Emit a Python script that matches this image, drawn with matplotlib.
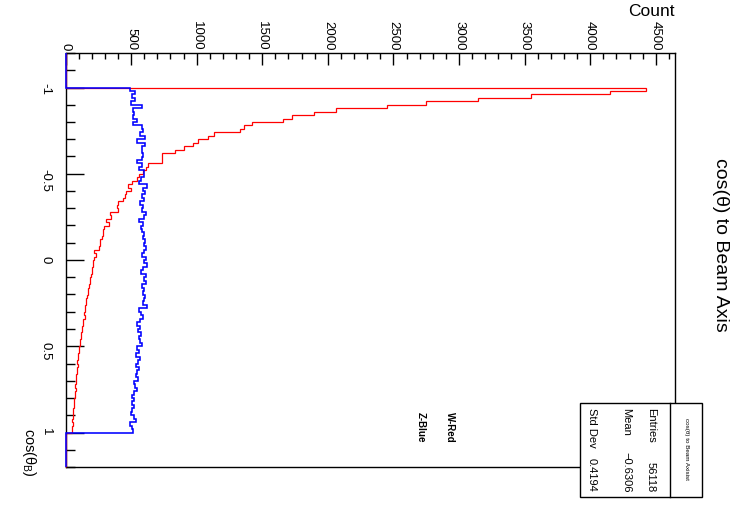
import numpy as np
import matplotlib
matplotlib.use('Agg')
import matplotlib.pyplot as plt
from matplotlib.ticker import MultipleLocator, FuncFormatter
from matplotlib.patches import Rectangle
from matplotlib.lines import Line2D

# bin contents, 100 bins of 0.02 between cos = -1 and cos = 1
w_red = [4422, 4150, 3548, 3147, 2745, 2448, 2062, 1894, 1729, 1655,
         1419, 1363, 1330, 1132, 1086, 1012, 969, 900, 834, 733,
         733, 733, 631, 610, 590, 560, 545, 505, 480, 500,
         465, 450, 440, 400, 395, 398, 340, 345, 310, 330,
         290, 287, 285, 275, 262, 265, 255, 215, 230, 220,
         210, 212, 205, 200, 195, 187, 190, 180, 170, 175,
         165, 158, 160, 150, 148, 140, 145, 135, 130, 128,
         125, 118, 120, 110, 108, 100, 105, 95, 98, 90,
         92, 85, 88, 80, 82, 78, 75, 80, 70, 72,
         68, 62, 65, 58, 60, 55, 52, 56, 50, 47]
z_blue = [491, 530, 510, 530, 500, 583, 515, 525, 512, 548,
          515, 583, 590, 570, 606, 548, 606, 585, 583, 590,
          583, 548, 583, 560, 600, 600, 575, 560, 620, 590,
          605, 585, 600, 570, 590, 580, 610, 600, 560, 590,
          575, 580, 600, 590, 605, 595, 615, 600, 580, 610,
          600, 620, 590, 575, 610, 595, 615, 580, 600, 590,
          605, 600, 590, 620, 560, 575, 590, 570, 545, 565,
          555, 575, 560, 570, 580, 545, 560, 540, 570, 550,
          540, 560, 545, 535, 555, 520, 530, 545, 520, 510,
          525, 505, 520, 510, 500, 525, 540, 495, 510, 517]

hist_lo, hist_hi, hist_bins = -1.2, 1.2, 120
count_max = 4643

stats_labels = ['Entries', 'Mean', 'Std Dev']
stats_values = ['56118', '\u22120.6306', '0.4194']
legend_text = ['W-Red', 'Z-Blue']

plt.rcParams['font.family'] = ['Liberation Sans', 'DejaVu Sans']
plt.rcParams['mathtext.fontset'] = 'custom'
plt.rcParams['mathtext.rm'] = 'Liberation Sans'
plt.rcParams['mathtext.it'] = 'Liberation Sans'

W, H = 740, 508
fig = plt.figure(figsize=(W / 100, H / 100), dpi=100)


def fx(px):
    return px / W


def fy(py):
    return 1 - py / H


ax = fig.add_axes([fx(65.5), fy(467), fx(674.5) - fx(65.5), fy(53) - fy(467)])

# pad with empty bins outside [-1, 1]
edges = np.linspace(hist_lo, hist_hi, hist_bins + 1)
n_pad = (hist_bins - len(w_red)) // 2
red_full = [0] * n_pad + w_red + [0] * n_pad
blue_full = [0] * n_pad + z_blue + [0] * n_pad

ax.stairs(red_full, edges, orientation='horizontal', color='#ff0000', lw=0.9,
          zorder=3, clip_on=False)
ax.stairs(blue_full, edges, orientation='horizontal', color='#0000ff', lw=1.15,
          zorder=4, clip_on=False)

ax.set_xlim(0, count_max)
ax.set_ylim(hist_hi, hist_lo)

for sp in ax.spines.values():
    sp.set_linewidth(1.0)

# count axis on top
ax.xaxis.set_major_locator(MultipleLocator(500))
ax.xaxis.set_minor_locator(MultipleLocator(100))
ax.tick_params(axis='x', which='both', direction='in', top=True, bottom=False,
               labeltop=True, labelbottom=False, labelrotation=-90,
               labelsize=9.5, pad=2, width=1)
ax.tick_params(axis='x', which='major', length=8.6)
ax.tick_params(axis='x', which='minor', length=4.3)

# cos axis on the left
ax.yaxis.set_major_locator(MultipleLocator(0.5))
ax.yaxis.set_minor_locator(MultipleLocator(0.1))
ax.yaxis.set_major_formatter(FuncFormatter(lambda v, p: '%g' % v))
ax.tick_params(axis='y', which='both', direction='in', left=True, right=False,
               labelrotation=-90, labelsize=9.5, pad=10, width=1)
ax.tick_params(axis='y', which='major', length=13)
ax.tick_params(axis='y', which='minor', length=6.5)

fig.text(fx(675), fy(12), 'Count', ha='right', va='center', fontsize=12.5)
fig.text(fx(721), fy(245), 'cos(\u03b8) to Beam Axis', rotation=-90,
         ha='center', va='center', fontsize=14)
fig.text(fx(29), fy(477), r'cos($\theta_{B}$)', rotation=-90,
         ha='center', va='bottom', fontsize=10.5)

# legend labels
for xp, txt in zip([450, 421], legend_text):
    fig.text(fx(xp), fy(412), txt, rotation=-90, ha='center', va='top',
             fontweight='bold', fontsize=7)

# stats box
box = Rectangle((fx(580), fy(497)), fx(702) - fx(580), fy(403) - fy(497),
                transform=fig.transFigure, facecolor='white', edgecolor='black',
                lw=1, zorder=10)
fig.add_artist(box)
fig.add_artist(Line2D([fx(670), fx(670)], [fy(403), fy(497)],
                      transform=fig.transFigure, color='black', lw=1, zorder=11))
fig.text(fx(686), fy(449), 'cos(\u03b8) to Beam Axisist', rotation=-90,
         ha='center', va='center', fontsize=4.5, zorder=12)
for xp, lab, val in zip([651, 626, 592], stats_labels, stats_values):
    fig.text(fx(xp), fy(408), lab, rotation=-90, ha='center', va='top',
             fontsize=8, zorder=12)
    fig.text(fx(xp), fy(492), val, rotation=-90, ha='center', va='bottom',
             fontsize=8, zorder=12)

fig.savefig('out.png', dpi=100)
